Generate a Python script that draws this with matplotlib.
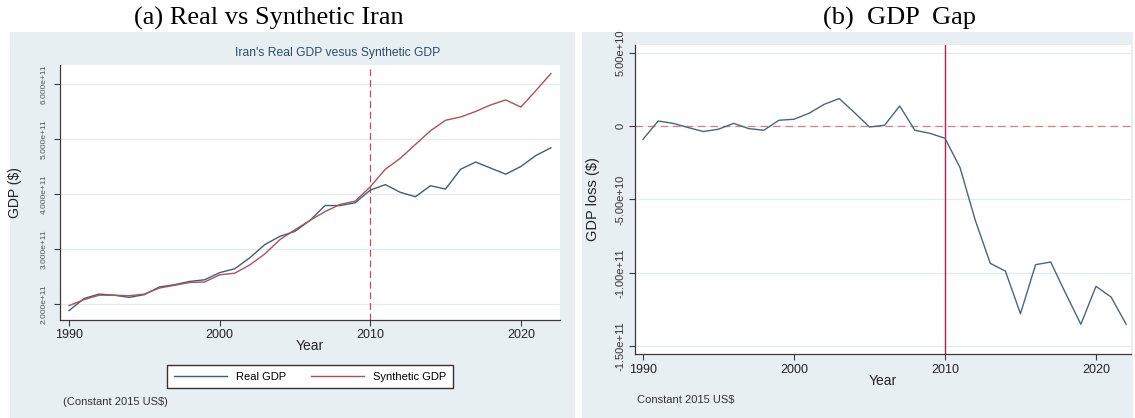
import numpy as np
import matplotlib.pyplot as plt
from matplotlib.patches import Rectangle

# Iran: real GDP vs synthetic control, constant 2015 US$
years = list(range(1990, 2023))
real_gdp = [1.88e11, 2.10e11, 2.18e11, 2.16e11, 2.12e11, 2.17e11, 2.31e11, 2.35e11,
            2.41e11, 2.44e11, 2.57e11, 2.64e11, 2.84e11, 3.08e11, 3.23e11, 3.32e11,
            3.52e11, 3.79e11, 3.79e11, 3.84e11, 4.07e11, 4.17e11, 4.03e11, 3.95e11,
            4.15e11, 4.09e11, 4.45e11, 4.58e11, 4.47e11, 4.36e11, 4.50e11, 4.70e11,
            4.84e11]
synthetic_gdp = [1.97e11, 2.08e11, 2.16e11, 2.16e11, 2.15e11, 2.18e11, 2.29e11, 2.34e11,
                 2.39e11, 2.40e11, 2.53e11, 2.56e11, 2.71e11, 2.91e11, 3.17e11, 3.35e11,
                 3.52e11, 3.68e11, 3.81e11, 3.87e11, 4.13e11, 4.45e11, 4.65e11, 4.90e11,
                 5.15e11, 5.34e11, 5.40e11, 5.50e11, 5.62e11, 5.71e11, 5.58e11, 5.88e11,
                 6.19e11]
# gap = real - synthetic
gdp_gap = [-0.89e10, 0.36e10, 0.20e10, -0.09e10, -0.36e10, -0.20e10, 0.20e10, -0.16e10,
           -0.27e10, 0.41e10, 0.48e10, 0.89e10, 1.50e10, 1.89e10, 0.94e10, -0.05e10,
           0.07e10, 1.39e10, -0.27e10, -0.48e10, -0.82e10, -2.83e10, -6.40e10, -9.36e10,
           -9.89e10, -1.28e11, -0.945e11, -0.927e11, -1.143e11, -1.352e11, -1.093e11,
           -1.166e11, -1.352e11]

left_yticks = [2e11, 3e11, 4e11, 5e11, 6e11]
left_ylabels = ["2.000e+11", "3.000e+11", "4.000e+11", "5.000e+11", "6.000e+11"]
right_yticks = [-1.5e11, -1e11, -5e10, 0, 5e10]
right_ylabels = ["-1.50e+11", "-1.00e+11", "-5.00e+10", "0", "5.00e+10"]
xticks = [1990, 2000, 2010, 2020]
treat_year = 2010

W, H = 1135, 418
bg = '#e8eff3'
grid_c = '#e4ebef'
navy = '#3e5f78'
maroon = '#a9535b'

plt.rcParams['font.family'] = ['Liberation Sans', 'DejaVu Sans']
fig = plt.figure(figsize=(W / 100, H / 100), dpi=100)
fig.patch.set_facecolor('white')

def px(x0, y0, x1, y1):
    return [x0 / W, 1 - y1 / H, (x1 - x0) / W, (y1 - y0) / H]

# panel backgrounds
for x0, x1 in [(10, 575), (582, 1133)]:
    fig.patches.append(Rectangle((x0 / W, 0), (x1 - x0) / W, 1 - 32 / H,
                                 transform=fig.transFigure, facecolor=bg,
                                 edgecolor='none', zorder=-5))

def style(ax, yticks, ylabels, ysize, ycolor, ypad):
    ax.set_facecolor('white')
    for s in ['top', 'right']:
        ax.spines[s].set_visible(False)
    for s in ['left', 'bottom']:
        ax.spines[s].set_color('#3a3a3a')
        ax.spines[s].set_linewidth(0.9)
    ax.set_xticks(xticks)
    ax.set_xticklabels([str(t) for t in xticks], fontsize=9, color='#222222')
    ax.set_yticks(yticks)
    ax.set_yticklabels(ylabels, fontsize=ysize, color=ycolor, rotation=90, va='center')
    ax.tick_params(axis='x', length=4, width=0.8, color='#3a3a3a', pad=3)
    ax.tick_params(axis='y', length=4, width=0.8, color='#3a3a3a', pad=ypad)
    for t in yticks:
        ax.axhline(t, color=grid_c, lw=0.9, zorder=0)

# (a) real vs synthetic
ax1 = fig.add_axes(px(60, 65, 560, 319.5))
ax1.plot(years, real_gdp, color=navy, lw=1.0, label='Real GDP', zorder=3)
ax1.plot(years, synthetic_gdp, color=maroon, lw=1.0, label='Synthetic GDP', zorder=3)
ax1.axvline(treat_year, color='#b3505d', lw=0.9, dashes=(5.5, 3), zorder=2)
ax1.set_xlim(1989.4, 2022.6)
ax1.set_ylim(1.718e11, 6.345e11)
style(ax1, left_yticks, left_ylabels, 6, '#555555', 5)
ax1.set_xlabel('Year', fontsize=10, color='#222222')
ax1.xaxis.set_label_coords(0.5, -(339 - 319.5) / 254.5)
ax1.set_ylabel('GDP ($)', fontsize=10, color='#222222')
ax1.yaxis.set_label_coords((22 - 60) / 500, 0.5)
fig.text(338 / W, 1 - 53 / H, "Iran's Real GDP vesus Synthetic GDP", fontsize=8.7,
         color='#2f4c6b', ha='center', va='center')
fig.legend(loc='center', bbox_to_anchor=(310 / W, 1 - 376.5 / H), ncol=2, fontsize=8,
           frameon=True, fancybox=False, edgecolor='#333333', framealpha=1,
           borderpad=0.6, handlelength=4.8, handletextpad=0.8, columnspacing=2.2)
fig.text(63 / W, 1 - 402 / H, '(Constant 2015 US$)', fontsize=8, color='#333333',
         ha='left', va='center')

# (b) gap
ax2 = fig.add_axes(px(635, 45, 1131, 354))
ax2.plot(years, gdp_gap, color='#4a667c', lw=1.0, zorder=3)
ax2.axhline(0, color='#c9858b', lw=0.9, dashes=(6, 4), zorder=2)
ax2.axvline(treat_year, color='#c8184a', lw=1.0, zorder=2)
ax2.set_xlim(1989.47, 2022.32)
ax2.set_ylim(-1.555e11, 5.55e10)
style(ax2, right_yticks, right_ylabels, 8, '#333333', 3)
ax2.set_xlabel('Year', fontsize=10, color='#222222')
ax2.xaxis.set_label_coords(0.5, -(374 - 354) / 309)
ax2.set_ylabel('GDP loss ($)', fontsize=10.5, color='#222222')
ax2.yaxis.set_label_coords((600 - 635) / 496, 0.5)
fig.text(637 / W, 1 - 400 / H, 'Constant 2015 US$', fontsize=8, color='#333333',
         ha='left', va='center')

# panel captions
fig.text(269 / W, 1 - 25 / H, '(a) Real vs Synthetic Iran', fontsize=19,
         family=['Liberation Serif', 'DejaVu Serif'], ha='center', va='baseline')
fig.text(900 / W, 1 - 25 / H, '(b)  GDP  Gap', fontsize=19,
         family=['Liberation Serif', 'DejaVu Serif'], ha='center', va='baseline')

fig.savefig('out.png', dpi=100)
